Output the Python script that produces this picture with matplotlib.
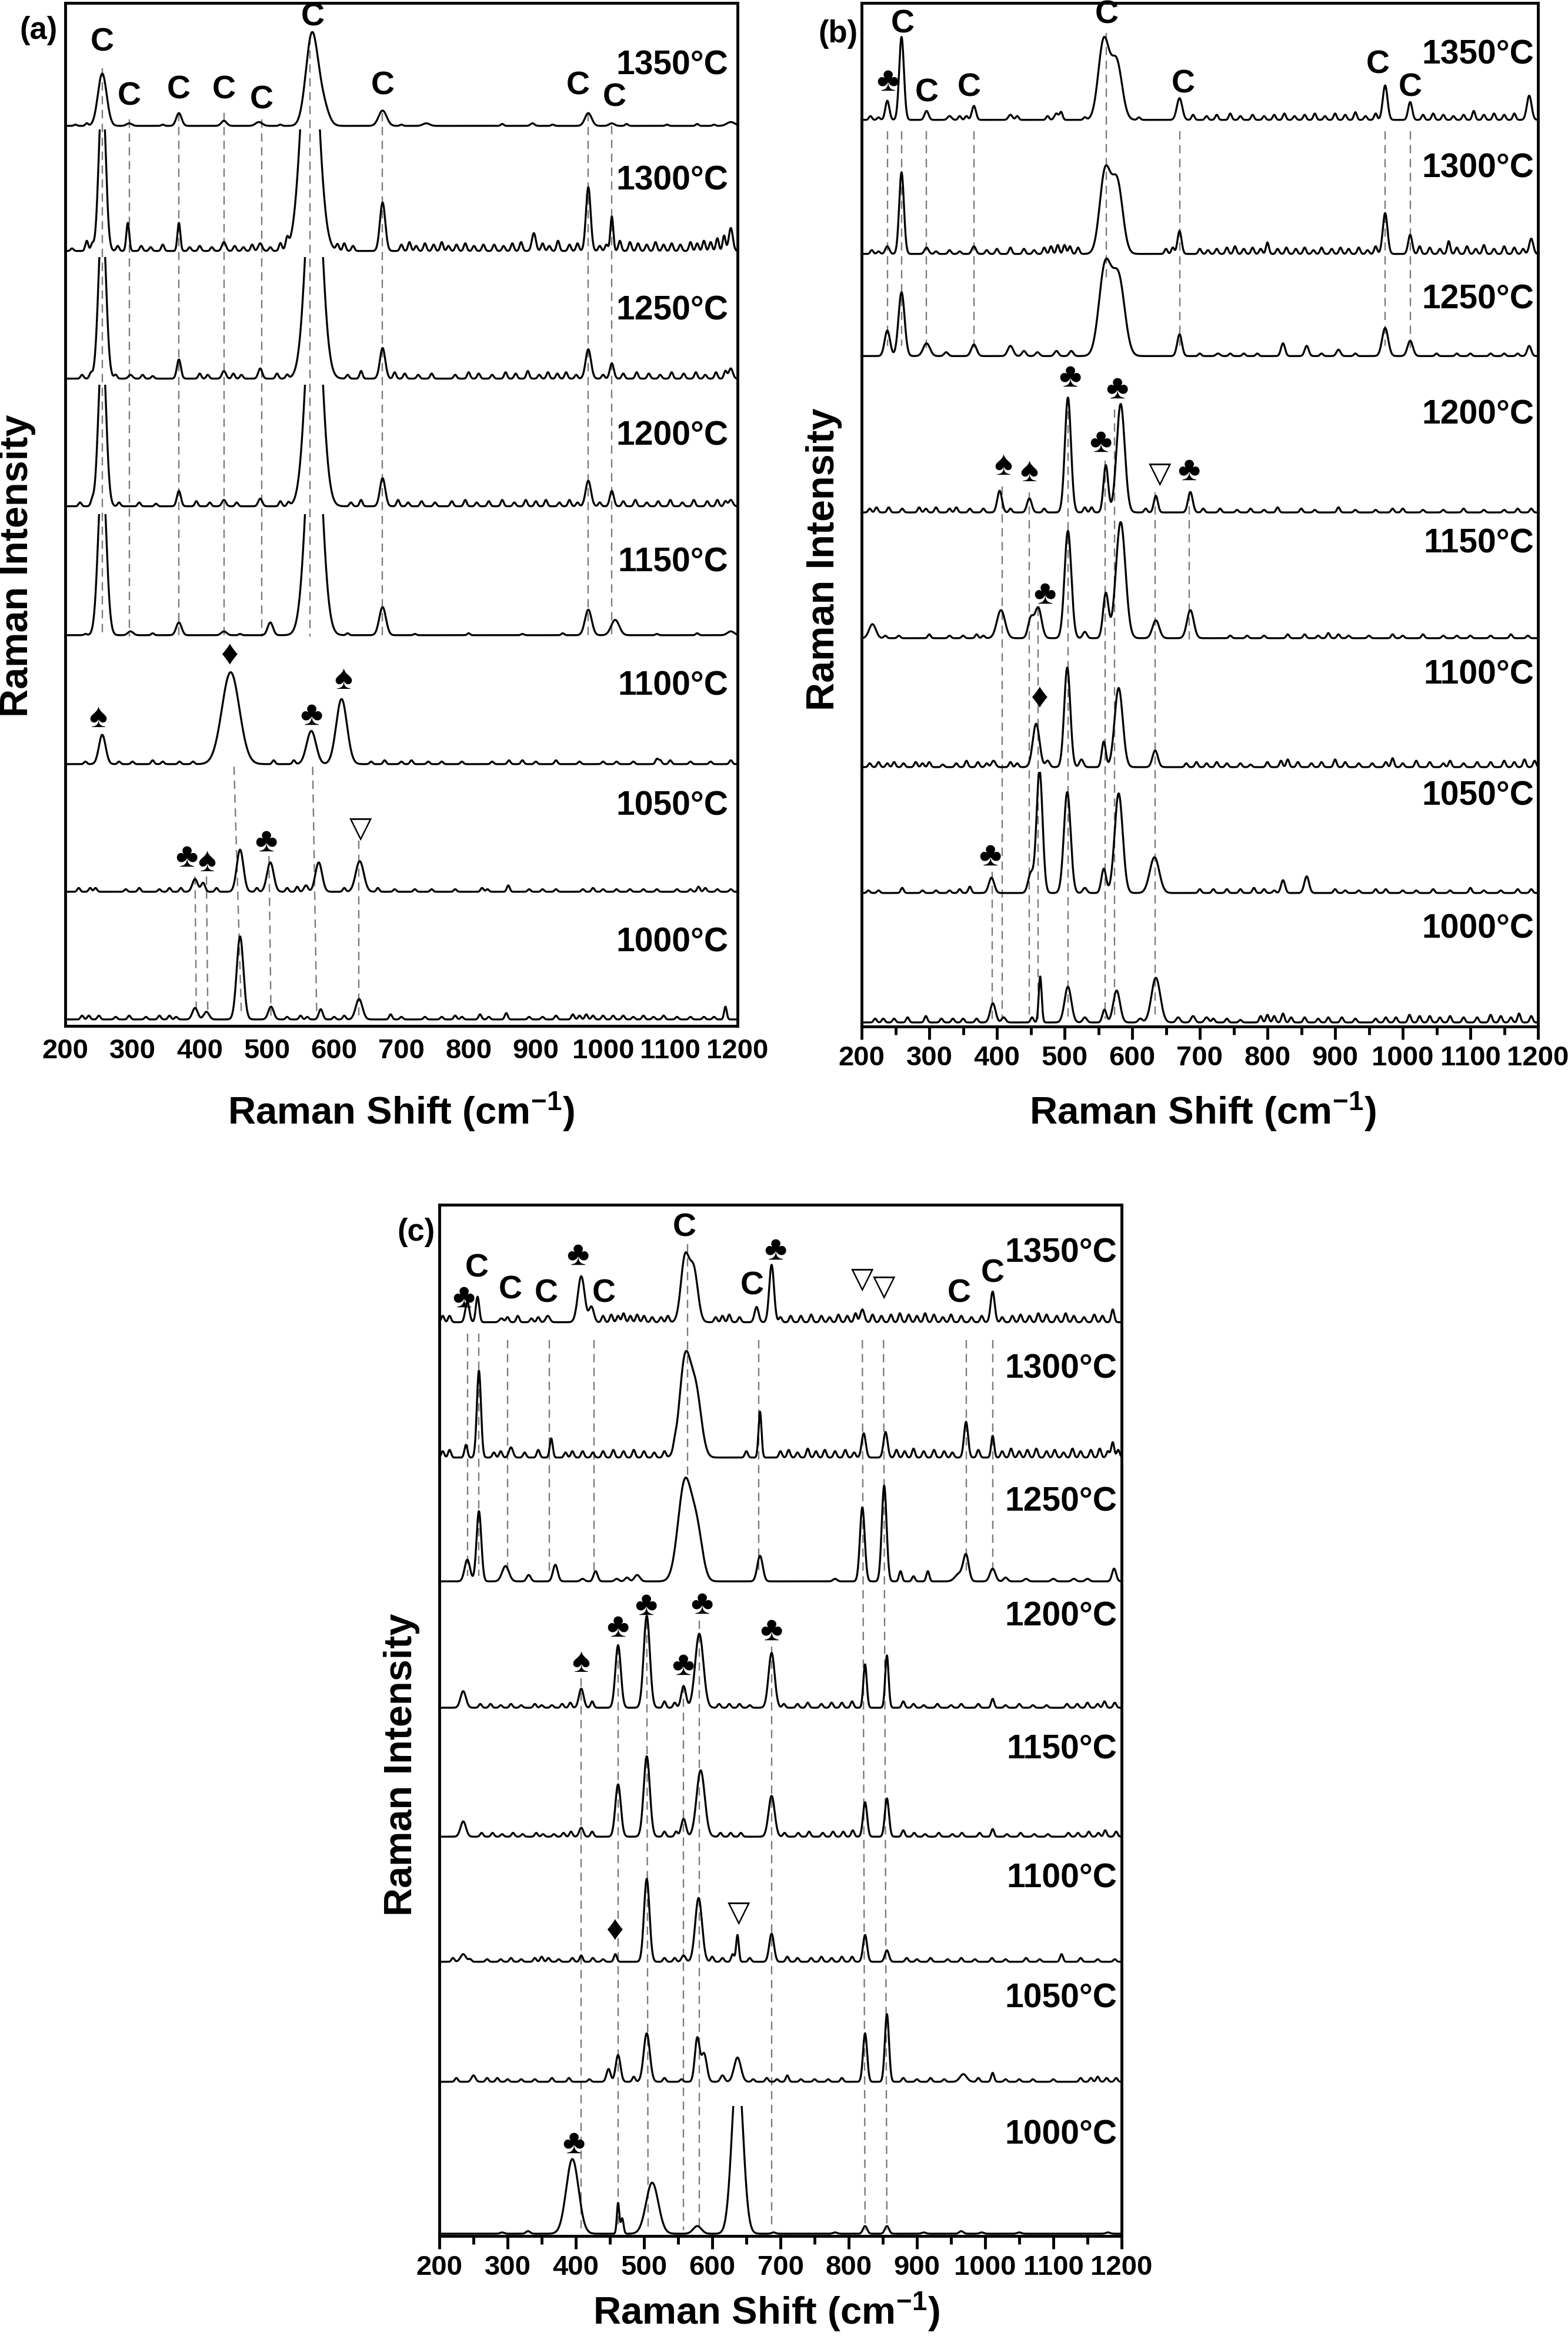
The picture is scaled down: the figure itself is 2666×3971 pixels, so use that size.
import numpy as np
import matplotlib.pyplot as plt
from matplotlib import font_manager
from matplotlib.patches import Rectangle
from matplotlib.transforms import blended_transform_factory

TXT = ['Liberation Sans', 'DejaVu Sans']
plt.rcParams['font.family'] = TXT
plt.rcParams['mathtext.fontset'] = 'custom'
plt.rcParams['mathtext.rm'] = 'Liberation Sans:bold'
plt.rcParams['mathtext.default'] = 'rm'

# tick labels are a narrow face in the original; fall back to a smaller regular face
_names = {f.name for f in font_manager.fontManager.ttflist}
if 'Liberation Sans Narrow' in _names:
    TICK_FAMILY, TICK_SIZE = ['Liberation Sans Narrow', 'DejaVu Sans'], 37
else:
    TICK_FAMILY, TICK_SIZE = TXT, 34

TEMPS = ['1000°C', '1050°C', '1100°C', '1150°C', '1200°C', '1250°C', '1300°C', '1350°C']
XTICKS = [200, 300, 400, 500, 600, 700, 800, 900, 1000, 1100, 1200]

# spectra: (shift cm-1, height, width) for bands, (shift, height) for the small noise bumps
# heights in units of the stacking step
A1000 = [(393, .09, 4), (410, .06, 4), (460, .65, 5), (506, .10, 4), (580, .08, 3), (637, .16, 5), (684, .04), (817, .04),
         (856, .05), (1182, .10, 2), (225, .03), (235, .03), (250, .03), (275, .02), (295, .03), (320, .02), (340, .03),
         (355, .03), (365, .02), (530, .02), (550, .03), (560, .02), (600, .02), (615, .03), (700, .02), (735, .02), (760, .02),
         (780, .03), (790, .02), (830, .02), (890, .02), (910, .02), (930, .03), (955, .04), (965, .03), (975, .04), (985, .03),
         (1000, .03), (1015, .03), (1030, .03), (1045, .02), (1060, .03), (1075, .02), (1090, .03), (1110, .02), (1130, .02),
         (1150, .02), (1165, .02)]
A1050 = [(393, .10, 4), (405, .07, 3), (460, .33, 5), (505, .23, 5), (558, .05, 3), (577, .23, 5), (638, .24, 6), (859, .05),
         (220, .03), (237, .03), (245, .03), (290, .02), (310, .03), (340, .02), (355, .03), (372, .03), (425, .03), (485, .03),
         (530, .03), (545, .04), (615, .03), (665, .03), (690, .02), (720, .02), (745, .02), (780, .02), (820, .03), (828, .02),
         (890, .02), (910, .02), (930, .02), (970, .02), (985, .03), (1000, .02), (1020, .02), (1040, .02), (1060, .02),
         (1080, .02), (1110, .02), (1130, .02), (1142, .04), (1152, .03), (1170, .02), (1190, .02)]
A1100 = [(255, .23, 5), (446, .72, 13), (566, .26, 7), (611, .51, 8), (230, .02), (280, .02), (300, .02), (330, .03),
         (345, .02), (370, .02), (390, .02), (510, .03), (540, .03), (655, .02), (675, .03), (700, .02), (715, .03), (740, .02),
         (760, .02), (790, .02), (835, .02), (860, .03), (880, .03), (900, .02), (930, .03), (965, .02), (1000, .02), (1020, .02),
         (1045, .02), (1080, .04), (1085, .03), (1100, .03), (1130, .02), (1160, .02), (1190, .03)]
A1150 = [(255, 1.3, 6), (297, .03, 4), (369, .10, 4), (436, .03, 4), (505, .10, 4), (570, 2.0, 11), (672, .22, 5),
         (978, .20, 5), (1018, .12, 6), (1190, .03, 5), (230, .01), (330, .015), (460, .01), (620, .015), (720, .01),
         (800, .015), (880, .01), (940, .015), (1080, .01), (1140, .015)]
A1200 = [(255, 1.3, 5.5), (369, .12, 3), (436, .05, 3), (490, .06, 3), (570, 2.0, 11), (672, .22, 4), (978, .20, 4),
         (1013, .12, 3), (1190, .05, 3), (222, .03), (240, .04), (280, .03), (310, .03), (335, .02), (395, .04), (415, .03),
         (455, .03), (520, .04), (532, .03), (625, .03), (640, .05), (695, .05), (710, .03), (730, .04), (750, .03), (775, .04),
         (795, .05), (812, .03), (830, .04), (850, .05), (868, .03), (885, .05), (900, .04), (915, .05), (935, .03), (950, .05),
         (962, .03), (995, .03), (1030, .04), (1048, .05), (1065, .03), (1082, .04), (1100, .05), (1118, .03), (1135, .05),
         (1155, .04), (1170, .05), (1182, .04)]
A1250 = [(255, 1.3, 5.5), (297, .03, 3), (369, .15, 3), (436, .06, 3), (490, .08, 3), (570, 2.0, 11), (672, .24, 4),
         (978, .23, 4), (1013, .12, 3), (1190, .08, 3), (225, .03), (238, .04), (275, .03), (315, .03), (330, .02), (400, .04),
         (412, .03), (450, .04), (462, .03), (515, .04), (530, .03), (620, .03), (640, .06), (690, .05), (705, .04), (725, .03),
         (745, .04), (780, .03), (800, .05), (815, .04), (835, .03), (855, .05), (870, .04), (888, .06), (905, .03), (918, .05),
         (932, .04), (945, .05), (960, .03), (1000, .03), (1030, .04), (1050, .05), (1068, .04), (1085, .03), (1102, .05),
         (1120, .04), (1138, .05), (1152, .03), (1168, .05), (1182, .06)]
A1300 = [(255, 1.3, 5), (293, .22), (369, .22), (436, .07, 3), (490, .06, 3), (564, 2.0, 12), (672, .38, 4), (978, .50, 3.5),
         (1013, .27), (897, .14, 3), (1190, .18, 3), (210, .02), (232, .08), (240, .05), (278, .04), (313, .04), (327, .03),
         (345, .05), (385, .03), (400, .04), (418, .03), (452, .04), (465, .03), (478, .05), (505, .03), (520, .06), (530, .08),
         (605, .05), (615, .06), (628, .04), (700, .05), (712, .07), (722, .04), (735, .06), (748, .05), (760, .07), (770, .04),
         (782, .05), (795, .06), (808, .04), (822, .05), (838, .05), (852, .04), (865, .06), (878, .07), (910, .06), (920, .04),
         (933, .08), (950, .05), (962, .06), (995, .04), (1005, .05), (1025, .08), (1040, .07), (1052, .06), (1065, .05),
         (1078, .07), (1090, .05), (1102, .06), (1115, .05), (1130, .07), (1140, .06), (1150, .08), (1160, .07), (1170, .10),
         (1180, .12)]
A1350 = [(255, .41, 6.5), (295, .02, 4), (369, .10, 4), (436, .04, 4), (488, .03, 5), (567, .72, 9), (584, .14, 8),
         (672, .12, 6), (737, .02, 5), (895, .02, 3), (978, .10, 5), (1013, .02, 4), (1190, .03, 6), (215, .01), (232, .02),
         (345, .01), (520, .01), (700, .01), (850, .015), (925, .01), (1035, .015), (1095, .01), (1140, .015), (1165, .01)]

B1000 = [(394, .15, 4), (410, .04, 3), (452, .04), (464, .36, 2.2), (505, .28, 5), (530, .04, 3), (559, .10, 3), (577, .25, 5),
         (612, .03, 3), (635, .35, 6.5), (668, .04, 3), (690, .05, 3), (710, .04, 3), (220, .03), (232, .03), (248, .03),
         (268, .04), (295, .05), (318, .03), (335, .03), (350, .03), (370, .03), (720, .03), (740, .03), (760, .02), (790, .05),
         (800, .06), (810, .05), (823, .07), (835, .04), (855, .04), (875, .03), (890, .04), (910, .04), (930, .03), (960, .03),
         (975, .04), (990, .04), (1010, .06), (1025, .05), (1040, .05), (1055, .04), (1070, .05), (1090, .04), (1110, .04),
         (1130, .06), (1145, .05), (1160, .04), (1172, .07), (1190, .05)]
B1050 = [(360, .05), (392, .12, 4), (450, .15, 4), (463, .96, 4.5), (504, .79, 5), (530, .04, 3), (558, .19, 3.5),
         (580, .78, 6), (633, .28, 7), (823, .10, 3), (858, .13, 3.5), (210, .02), (225, .02), (260, .04), (290, .02), (310, .02),
         (330, .02), (345, .03), (700, .03), (720, .03), (740, .03), (760, .03), (780, .04), (795, .03), (810, .02), (900, .03),
         (915, .02), (935, .02), (960, .03), (975, .03), (1000, .02), (1020, .02), (1045, .03), (1070, .02), (1100, .04),
         (1120, .02), (1145, .02), (1170, .03), (1190, .03)]
B1100 = [(395, .05, 3), (458, .34, 5), (475, .05, 3), (504, .78, 4.5), (525, .06, 3), (558, .20, 3), (580, .62, 6),
         (634, .13, 4), (212, .03), (225, .04), (238, .03), (248, .04), (262, .03), (280, .04), (290, .03), (300, .04), (320, .02),
         (340, .03), (355, .05), (372, .04), (385, .03), (420, .04), (430, .03), (680, .03), (695, .04), (710, .03), (725, .04),
         (740, .03), (760, .03), (775, .02), (800, .04), (820, .05), (830, .06), (845, .04), (865, .03), (880, .04), (900, .06),
         (915, .04), (935, .03), (955, .03), (975, .04), (985, .07), (1000, .03), (1020, .05), (1040, .04), (1060, .03),
         (1070, .05), (1090, .03), (1110, .04), (1130, .04), (1150, .05), (1165, .04), (1180, .06), (1195, .05)]
B1150 = [(216, .11, 5), (406, .22, 6), (450, .15, 4), (461, .24, 5), (505, .84, 5), (530, .05, 3), (561, .35, 4),
         (583, .91, 7), (635, .14, 5), (686, .22, 5), (235, .02), (255, .02), (300, .03), (330, .02), (350, .02), (370, .03),
         (380, .02), (745, .02), (770, .02), (795, .02), (830, .03), (855, .03), (875, .02), (890, .04), (905, .03), (920, .02),
         (950, .02), (985, .03), (1000, .02), (1030, .03), (1060, .02), (1080, .02), (1100, .02), (1130, .02), (1160, .03),
         (1185, .02)]
B1200 = [(404, .17, 3.5), (448, .11, 3.5), (505, .90, 4.5), (530, .04), (561, .37, 3.5), (583, .85, 6), (635, .13, 3),
         (686, .16, 3.5), (212, .03), (222, .04), (240, .04), (260, .03), (285, .04), (295, .03), (310, .04), (330, .03),
         (340, .04), (360, .03), (380, .03), (420, .03), (470, .03), (540, .04), (620, .03), (705, .03), (730, .03), (755, .02),
         (775, .03), (795, .02), (815, .04), (850, .03), (870, .02), (905, .04), (930, .02), (960, .02), (985, .03), (1000, .03),
         (1030, .02), (1060, .02), (1090, .03), (1120, .02), (1150, .02), (1170, .03), (1190, .03)]
B1250 = [(238, .20, 4), (259, .50, 4.5), (296, .10, 5), (325, .03, 3), (366, .09, 4), (420, .08, 4), (440, .04, 3),
         (460, .03, 3), (488, .04, 3), (510, .04, 3), (560, .70, 9), (580, .60, 9), (670, .17, 3.5), (727, .02, 3),
         (823, .10, 3), (858, .08, 3), (905, .05, 3), (974, .22, 4.5), (1011, .12, 4), (1187, .08, 3), (700, .02), (745, .02),
         (765, .02), (785, .02), (880, .02), (930, .02), (1050, .02), (1080, .02), (1100, .02), (1130, .02), (1150, .02),
         (1170, .02)]
B1300 = [(238, .06, 3), (259, .64, 3.5), (296, .05, 3), (366, .06, 3), (420, .05), (560, .64, 8), (578, .55, 8),
         (670, .18, 3), (974, .32, 3.5), (1011, .15, 3), (1190, .12, 3), (215, .03), (225, .02), (310, .02), (330, .03),
         (345, .02), (385, .03), (400, .04), (440, .04), (455, .03), (470, .05), (480, .06), (490, .07), (500, .07), (508, .06),
         (520, .05), (650, .04), (660, .05), (700, .04), (712, .03), (725, .04), (740, .05), (752, .06), (765, .04), (778, .05),
         (790, .04), (800, .09), (815, .04), (828, .05), (842, .04), (855, .05), (868, .03), (880, .05), (895, .04), (908, .05),
         (920, .04), (935, .05), (948, .03), (960, .06), (1025, .06), (1040, .05), (1055, .04), (1068, .10), (1080, .05),
         (1095, .06), (1108, .04), (1120, .07), (1135, .04), (1150, .06), (1165, .05), (1178, .04)]
B1350 = [(238, .15, 3), (259, .65, 3.5), (296, .07, 3), (330, .03, 3), (366, .11, 3), (420, .04, 3), (488, .05, 3),
         (558, .62, 8), (577, .45, 8), (670, .17, 4), (974, .27, 3.5), (1011, .14, 3), (1187, .19, 3.5), (213, .03), (225, .02),
         (345, .03), (355, .03), (430, .03), (475, .03), (495, .06), (530, .02), (610, .02), (690, .04), (710, .03), (725, .04),
         (745, .05), (760, .03), (778, .04), (795, .03), (810, .04), (825, .05), (840, .03), (855, .04), (870, .05), (885, .03),
         (900, .05), (915, .04), (930, .06), (945, .03), (960, .05), (1030, .04), (1045, .05), (1060, .04), (1075, .03),
         (1090, .04), (1105, .07), (1120, .04), (1135, .05), (1150, .04), (1165, .05)]

C1000 = [(395, .585, 9), (462, .24, 1.8), (468, .12, 2), (512, .40, 9), (578, .06, 6), (637, 1.35, 8), (292, .01, 3),
         (330, .02, 3), (690, .01, 3), (780, .01, 3), (824, .06, 3), (856, .06, 3), (910, .01, 3), (965, .02, 3), (995, .01, 3),
         (1050, .01, 3), (1180, .01, 3)]
C1050 = [(250, .05, 3), (448, .10, 3), (462, .21, 3.5), (504, .38, 4.5), (578, .34, 3.5), (588, .22, 4), (615, .05, 3),
         (637, .19, 5), (710, .05), (824, .38, 3), (856, .53, 3), (968, .06, 5), (1011, .07), (225, .03), (270, .03), (285, .03),
         (300, .02), (320, .02), (340, .02), (365, .03), (390, .03), (420, .02), (485, .04), (530, .03), (555, .02), (660, .02),
         (680, .03), (695, .02), (730, .02), (750, .02), (770, .02), (790, .03), (880, .03), (900, .02), (920, .03), (940, .02),
         (990, .03), (1030, .02), (1050, .02), (1070, .02), (1100, .02), (1140, .03), (1155, .03), (1165, .04), (1178, .03),
         (1192, .03)]
C1100 = [(235, .06, 4), (408, .05), (458, .06), (504, .65, 4), (558, .05, 3), (580, .50, 5), (630, .06), (637, .21, 2),
         (687, .22, 3.5), (824, .21, 3), (856, .09, 3), (1112, .06), (220, .03), (245, .02), (270, .02), (290, .02), (305, .03),
         (320, .02), (340, .03), (350, .04), (360, .03), (375, .02), (395, .03), (425, .03), (440, .02), (530, .03), (545, .03),
         (600, .04), (615, .03), (655, .03), (710, .04), (725, .03), (745, .03), (760, .04), (775, .03), (790, .04), (805, .04),
         (885, .03), (900, .02), (920, .03), (945, .02), (965, .03), (985, .02), (1010, .03), (1030, .02), (1060, .03),
         (1080, .02), (1140, .03), (1165, .02), (1190, .02)]
C1150 = [(235, .12, 4), (408, .07, 3), (424, .04), (462, .41, 4), (504, .63, 4.5), (530, .04), (558, .14, 3.5),
         (583, .52, 6), (687, .32, 4.5), (824, .27, 3), (856, .30, 3), (880, .05), (1011, .06), (262, .03), (278, .03),
         (292, .02), (308, .03), (322, .02), (342, .03), (352, .02), (368, .02), (382, .03), (393, .04), (547, .04), (612, .03),
         (627, .03), (642, .03), (706, .03), (726, .03), (742, .04), (762, .03), (777, .04), (792, .04), (806, .05), (896, .03),
         (912, .02), (932, .03), (952, .02), (966, .03), (992, .03), (1032, .02), (1052, .03), (1072, .02), (1092, .02),
         (1122, .03), (1136, .03), (1152, .04), (1166, .03), (1176, .05), (1192, .04)]
C1200 = [(235, .13, 4), (408, .15, 3.5), (424, .05), (462, .49, 4), (504, .72, 4.5), (530, .05), (558, .17, 3.5),
         (581, .58, 6), (687, .43, 4.5), (824, .34, 2.5), (856, .41, 2.5), (880, .05), (1011, .07), (260, .03), (275, .03),
         (290, .02), (305, .03), (320, .02), (340, .03), (350, .02), (365, .02), (380, .03), (392, .04), (545, .04), (610, .03),
         (625, .03), (640, .03), (655, .02), (705, .03), (725, .03), (740, .04), (760, .03), (775, .04), (790, .04), (805, .05),
         (895, .03), (910, .02), (930, .03), (950, .02), (965, .03), (990, .03), (1030, .02), (1050, .03), (1070, .02),
         (1090, .02), (1120, .03), (1135, .03), (1150, .04), (1165, .03), (1175, .05), (1190, .04)]
C1250 = [(241, .17, 4), (258, .55, 3.5), (297, .12, 5), (331, .05, 3), (370, .13, 3.5), (410, .02, 3), (429, .08, 3),
         (460, .02, 3), (475, .03, 3), (490, .05, 4), (560, .78, 10), (578, .35, 8), (670, .20, 4), (780, .02, 3),
         (820, .58, 3.5), (852, .75, 3.5), (876, .08), (895, .04), (916, .08), (962, .06, 6), (972, .20, 4), (1011, .10, 4),
         (1030, .03, 3), (1060, .02, 3), (1100, .02, 3), (1130, .02, 3), (1150, .02, 3), (1189, .10, 3)]
C1300 = [(239, .10), (258, .68, 3), (305, .08, 3), (364, .15), (410, .05), (560, .75, 8), (576, .50, 8), (670, .36),
         (822, .19, 3), (854, .20, 3), (972, .28, 3), (1011, .17), (1187, .12), (205, .05), (215, .06), (280, .04), (290, .05),
         (325, .04), (345, .06), (385, .04), (395, .05), (425, .04), (440, .05), (455, .06), (470, .05), (485, .06), (500, .05),
         (515, .04), (530, .05), (545, .04), (650, .05), (700, .05), (712, .06), (725, .04), (740, .07), (752, .05), (765, .06),
         (780, .05), (795, .06), (808, .04), (870, .06), (882, .05), (895, .07), (910, .05), (925, .06), (940, .05), (952, .04),
         (990, .06), (1025, .05), (1038, .07), (1050, .05), (1062, .06), (1075, .07), (1090, .05), (1102, .06), (1115, .04),
         (1128, .07), (1140, .05), (1155, .06), (1168, .07), (1180, .05), (1195, .06)]
C1350 = [(241, .16, 3), (256, .20, 2.5), (291, .03, 3), (335, .03), (359, .05, 3), (408, .36, 5), (423, .12, 3.5),
         (560, .50, 6), (573, .40, 6), (665, .12, 3), (687, .45, 3.5), (820, .10, 3), (1011, .24, 3), (1187, .10), (205, .05),
         (215, .05), (300, .04), (315, .05), (345, .04), (440, .05), (452, .06), (462, .05), (470, .07), (480, .05), (490, .06),
         (500, .05), (512, .04), (525, .04), (535, .05), (605, .04), (615, .05), (625, .06), (640, .04), (700, .04), (715, .05),
         (730, .05), (745, .06), (760, .05), (772, .04), (785, .06), (798, .05), (810, .07), (835, .06), (848, .05), (862, .06),
         (875, .07), (888, .06), (900, .05), (912, .07), (925, .06), (938, .04), (950, .06), (965, .05), (980, .04), (995, .05),
         (1025, .04), (1040, .05), (1052, .06), (1065, .05), (1078, .07), (1090, .06), (1105, .05), (1118, .07), (1130, .05),
         (1145, .04), (1160, .06), (1172, .05)]

# baselines of the stacked spectra, 1000 -> 1350 °C
A_OFF = [0, 1.0, 2.0, 3.01, 4.02, 5.02, 6.02, 7.0]
B_OFF = [0, 1.014, 2.0, 3.01, 3.995, 5.22, 6.02, 7.07]
C_OFF = [0, 1.19, 2.13, 3.11, 4.12, 5.11, 6.08, 7.14]
A_LAB = [0.60, 1.67, 2.61, 3.58, 4.57, 5.55, 6.57, 7.47]
B_LAB = [0.73, 1.77, 2.72, 3.75, 4.76, 5.66, 6.69, 7.58]
C_LAB = [0.77, 1.84, 2.78, 3.79, 4.83, 5.73, 6.77, 7.68]

# band assignments
A_MARKS = [('C', 255, 7.65), ('C', 295, 7.23), ('C', 369, 7.28), ('C', 436, 7.28), ('C', 492, 7.20), ('C', 568, 7.85),
           ('C', 672, 7.31), ('C', 963, 7.31), ('C', 1017, 7.22), ('♠', 249, 2.36), ('♦', 444, 2.85), ('♣', 566, 2.38),
           ('♠', 614, 2.66), ('♣', 381, 1.27), ('♠', 411, 1.23), ('♣', 499, 1.39), ('▽', 639, 1.49)]
B_MARKS = [('♣', 239, 7.37), ('C', 261, 7.82), ('C', 296, 7.28), ('C', 359, 7.32), ('C', 562, 7.89), ('C', 675, 7.35),
           ('C', 963, 7.50), ('C', 1011, 7.32), ('♠', 409, 4.36), ('♠', 448, 4.31), ('♣', 508, 5.05), ('♣', 553, 4.54),
           ('♣', 578, 4.96), ('▽', 641, 4.29), ('♣', 684, 4.32), ('♣', 471, 3.35), ('♦', 463, 2.54), ('♣', 390, 1.30)]
C_MARKS = [('♣', 236, 7.33), ('C', 255, 7.56), ('C', 304, 7.39), ('C', 357, 7.36), ('♣', 403, 7.66), ('C', 441, 7.36),
           ('C', 559, 7.88), ('C', 658, 7.42), ('♣', 693, 7.70), ('▽', 820, 7.47), ('▽', 852, 7.41), ('C', 962, 7.36),
           ('C', 1011, 7.52), ('♠', 408, 4.47), ('♣', 462, 4.75), ('♣', 503, 4.92), ('♣', 557, 4.45), ('♣', 585, 4.93),
           ('♣', 687, 4.72), ('♦', 457, 2.37), ('▽', 639, 2.51), ('♣', 397, 0.70)]
MARK_SIZE = {'C': 40, '▽': 36, '♣': 42, '♠': 42, '♦': 42}

# guide lines (x top, y top, x bottom, y bottom)
A_DASH = [(255, 7.45, 255, 3.0), (295, 7.05, 295, 3.0), (369, 7.1, 369, 3.0), (436, 7.1, 436, 3.0), (492, 7.05, 492, 3.0),
          (564, 7.7, 564, 3.0), (672, 7.1, 672, 3.0), (978, 7.1, 978, 3.0), (1013, 7.0, 1013, 3.0),
          (451, 1.98, 462, 0.03), (568, 1.98, 574, 0.03), (637, 1.40, 637, 0.03), (503, 1.28, 506, 0.03),
          (393, 1.12, 395, 0.03), (410, 1.12, 412, 0.03)]
B_DASH = [(238, 6.98, 238, 5.3), (259, 6.98, 259, 5.3), (296, 6.98, 296, 5.25), (366, 6.98, 366, 5.25),
          (562, 7.75, 562, 5.8), (670, 6.98, 670, 5.3), (974, 6.98, 974, 5.3), (1011, 6.98, 1011, 5.25),
          (408, 4.2, 408, 0.03), (448, 4.15, 448, 0.03), (461, 3.25, 461, 0.03), (505, 4.9, 505, 0.03),
          (560, 4.4, 560, 0.03), (574, 4.8, 574, 0.03), (634, 4.15, 634, 0.03), (684, 4.15, 684, 3.0),
          (393, 1.18, 393, 0.03)]
C_DASH = [(241, 7.05, 241, 5.15), (258, 7.05, 258, 5.15), (300, 7.0, 300, 5.15), (361, 7.0, 361, 5.15),
          (427, 7.0, 427, 5.15), (564, 7.75, 564, 5.9), (668, 7.0, 668, 5.2), (972, 7.0, 972, 5.15),
          (1011, 7.0, 1011, 5.15), (820, 7.0, 824, 0.03), (851, 7.0, 856, 0.03),
          (408, 4.35, 408, 0.03), (462, 4.6, 462, 0.03), (504, 4.8, 506, 0.03), (558, 4.3, 558, 0.03),
          (581, 4.8, 581, 0.03), (687, 4.6, 687, 0.03)]

X = np.linspace(200, 1200, 4001)


def spectrum(peaks):
    y = np.zeros_like(X)
    for p in peaks:
        s = p[2] if len(p) > 2 else 2.2
        y += p[1] * np.exp(-0.5 * ((X - p[0]) / s) ** 2)
    return y


def panel(rect, spectra, offs, labs, lab_x, marks, dashes, ylim, clip_h, ticks_out):
    ax = fig.add_axes(rect)
    for x0, y0, x1, y1 in dashes:
        ax.plot([x0, x1], [y0, y1], color='#7a7a7a', lw=1.7, ls=(0, (6, 4)), zorder=1)
    for pk, off in zip(spectra, offs):
        ln, = ax.plot(X, spectrum(pk) + off, color='black', lw=2.4, zorder=2)
        ln.set_clip_path(Rectangle((150, off - 0.3), 1100, clip_h + 0.3, transform=ax.transData))
    tr = blended_transform_factory(ax.transAxes, ax.transData)
    for t, ly in zip(TEMPS, labs):
        ax.text(lab_x, ly, t, transform=tr, ha='right', va='center', fontsize=41, fontweight='bold')
    for s, mx, my in marks:
        ax.text(mx, my, s, ha='center', va='center', fontsize=MARK_SIZE[s], fontweight='bold',
                family=TXT, zorder=3)
    ax.set_xlim(200, 1200)
    ax.set_ylim(*ylim)
    ax.set_yticks([])
    ax.set_xticks(XTICKS)
    ax.set_xticklabels([str(t) for t in XTICKS], fontsize=TICK_SIZE, fontweight='bold', family=TICK_FAMILY)
    if ticks_out:
        ax.set_xticks([t + 50 for t in XTICKS[:-1]], minor=True)
        ax.tick_params(axis='x', which='major', direction='out', length=16, width=3.5, pad=7)
        ax.tick_params(axis='x', which='minor', direction='out', length=10, width=3.5)
    else:
        ax.tick_params(axis='x', length=0, pad=15)
    for sp in ax.spines.values():
        sp.set_linewidth(3.5)
    return ax


W, H = 2666, 3971
fig = plt.figure(figsize=(W / 100, H / 100), dpi=100)

panel([111 / W, 1 - 1744 / H, 1143 / W, 1739 / H],
      [A1000, A1050, A1100, A1150, A1200, A1250, A1300, A1350], A_OFF, A_LAB, 0.986,
      A_MARKS, A_DASH, (-0.051, 7.963), 0.95, False)
panel([1465 / W, 1 - 1745 / H, 1150 / W, 1740 / H],
      [B1000, B1050, B1100, B1150, B1200, B1250, B1300, B1350], B_OFF, B_LAB, 0.994,
      B_MARKS, B_DASH, (-0.032, 7.986), 0.95, True)
panel([747 / W, 1 - 3801 / H, 1160 / W, 1753 / H],
      [C1000, C1050, C1100, C1150, C1200, C1250, C1300, C1350], C_OFF, C_LAB, 0.993,
      C_MARKS, C_DASH, (-0.018, 8.06), 1.0, True)

# axis titles and panel letters
for px, py in [(30, 962), (1401, 951), (683, 3000)]:
    fig.text(px / W, 1 - py / H, 'Raman Intensity', rotation=90, ha='center', va='center',
             fontsize=48, fontweight='bold')
for px, py in [(682, 1890), (2045, 1890), (1303, 3930)]:
    fig.text(px / W, 1 - py / H, 'Raman Shift (cm$^{-1}$)', ha='center', va='center',
             fontsize=47, fontweight='bold')
for lab, px, py in [('(a)', 66, 52), ('(b)', 1425, 58), ('(c)', 708, 2095)]:
    fig.text(px / W, 1 - py / H, lab, ha='center', va='center', fontsize=38, fontweight='bold')

fig.savefig('out.png', dpi=100)
